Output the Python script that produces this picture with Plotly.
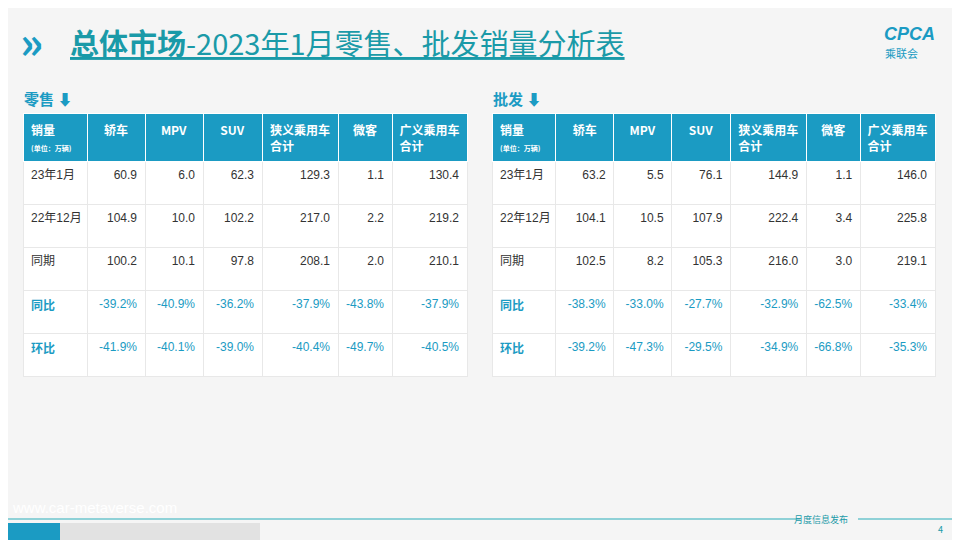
import plotly.graph_objects as go

columns = ["销量<br><span style='font-size:7px'>(单位：万辆)</span>", "轿车", "MPV", "SUV", "狭义乘用车<br>合计", "微客", "广义乘用车<br>合计"]
row_labels = ["23年1月", "22年12月", "同期", "同比", "环比"]

retail_sedan = ["60.9", "104.9", "100.2", "-39.2%", "-41.9%"]
retail_mpv = ["6.0", "10.0", "10.1", "-40.9%", "-40.1%"]
retail_suv = ["62.3", "102.2", "97.8", "-36.2%", "-39.0%"]
retail_narrow = ["129.3", "217.0", "208.1", "-37.9%", "-40.4%"]
retail_mini = ["1.1", "2.2", "2.0", "-43.8%", "-49.7%"]
retail_broad = ["130.4", "219.2", "210.1", "-37.9%", "-40.5%"]

whole_sedan = ["63.2", "104.1", "102.5", "-38.3%", "-39.2%"]
whole_mpv = ["5.5", "10.5", "8.2", "-33.0%", "-47.3%"]
whole_suv = ["76.1", "107.9", "105.3", "-27.7%", "-29.5%"]
whole_narrow = ["144.9", "222.4", "216.0", "-32.9%", "-34.9%"]
whole_mini = ["1.1", "3.4", "3.0", "-62.5%", "-66.8%"]
whole_broad = ["146.0", "225.8", "219.1", "-33.4%", "-35.3%"]

BLUE = "#1b9bc3"
TEAL = "#1a9aa8"
OFF = 8  # page body margin
W, H = 960 - OFF, 540 - OFF

def fx(x):
    return (x - OFF) / W

def fy(y):
    return 1 - (y - OFF) / H

def make_table(cols, x0, x1):
    label_cols = ["<b>" + r + "</b>" if i >= 3 else r for i, r in enumerate(row_labels)]
    label_colors = ["#333"] * 3 + [BLUE] * 2
    return go.Table(
        domain=dict(x=[fx(x0), fx(x1)], y=[fy(385), fy(113)]),
        columnwidth=[64, 58, 58, 59, 76, 54, 75],
        header=dict(values=["<b>" + c + "</b>" for c in columns], fill_color=BLUE,
                    line=dict(color="white", width=1), height=42,
                    align=["left"] + ["center"] * 6,
                    font=dict(color="white", size=12, family="Noto Sans CJK SC")),
        cells=dict(values=[label_cols] + cols, fill_color="white",
                   line=dict(color="#e8e8e8", width=1), height=43,
                   align=["left"] + ["right"] * 6,
                   font=dict(color=[label_colors] + [label_colors] * 6, size=12,
                             family="Liberation Sans, Noto Sans CJK SC")),
    )

fig = go.Figure()
fig.add_trace(make_table([retail_sedan, retail_mpv, retail_suv, retail_narrow, retail_mini, retail_broad], 23, 467))
fig.add_trace(make_table([whole_sedan, whole_mpv, whole_suv, whole_narrow, whole_mini, whole_broad], 492, 935))

def ann(text, x, y, size, color, xanchor="left", family="Noto Sans CJK SC"):
    fig.add_annotation(text=text, x=fx(x), y=fy(y), xref="paper", yref="paper",
                       xanchor=xanchor, yanchor="middle", showarrow=False,
                       font=dict(size=size, color=color, family=family))

ann("<b>»</b>", 18, 40, 44, BLUE)
ann("<u><b>总体市场</b>-2023年1月零售、批发销量分析表</u>", 68, 42, 29, TEAL)
ann("<b><i>CPCA</i></b>", 937, 34, 18, BLUE, "right", "Liberation Sans")
ann("乘联会", 920, 53, 11, BLUE, "right")
ann("<b>零售 ⬇</b>", 22, 98, 15, BLUE)
ann("<b>批发 ⬇</b>", 491, 98, 15, BLUE)
ann("www.car-metaverse.com", 10, 507, 15, "white", family="Liberation Sans")
ann("月度信息发布", 850, 519, 9, TEAL, "right")
ann("4", 945, 529, 9, TEAL, "right")

line_y = fy(519)
fig.add_shape(type="line", xref="paper", yref="paper", x0=0, x1=fx(800), y0=line_y, y1=line_y,
              line=dict(color="#6cc5cc", width=1.5))
fig.add_shape(type="line", xref="paper", yref="paper", x0=fx(858), x1=1, y0=line_y, y1=line_y,
              line=dict(color="#6cc5cc", width=1.5))
fig.add_shape(type="rect", xref="paper", yref="paper", x0=0, x1=fx(260), y0=0, y1=fy(523),
              fillcolor="#e2e2e2", line_width=0)
fig.add_shape(type="rect", xref="paper", yref="paper", x0=0, x1=fx(60), y0=0, y1=fy(523),
              fillcolor=BLUE, line_width=0)

fig.update_layout(width=W, height=H, margin=dict(l=0, r=0, t=0, b=0),
                  paper_bgcolor="#f5f5f5", plot_bgcolor="#f5f5f5", showlegend=False)
fig.write_html("out.html")
